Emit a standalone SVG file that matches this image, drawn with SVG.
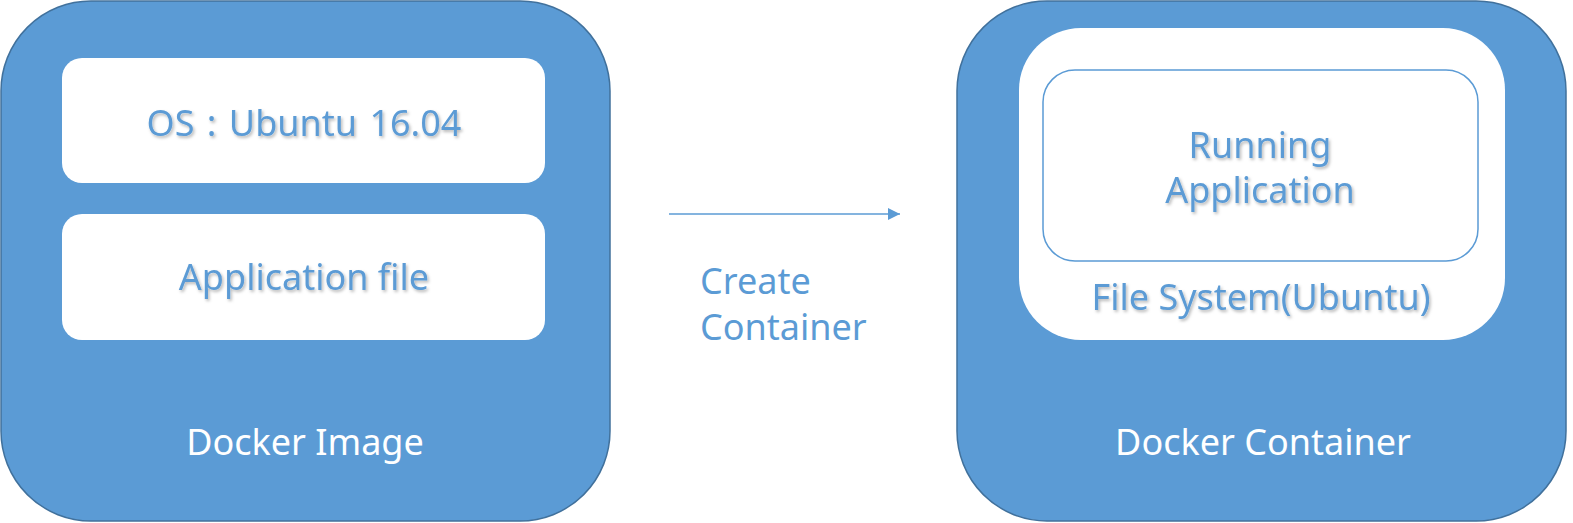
<svg xmlns="http://www.w3.org/2000/svg" width="1573" height="523" viewBox="0 0 1573 523">
<style>
.outer{fill:#5B9BD5;stroke:#41719C;stroke-width:1.5}
.white{fill:#FFFFFF}
.t{font-family:"Noto Sans","Open Sans",sans-serif;font-size:36px;text-anchor:middle}
.blue{fill:#5B9BD5}
.sh{filter:url(#shadow)}
.wt{fill:#FFFFFF}
.conn{stroke:#5B9BD5;stroke-width:1.5;fill:none}
</style>
<defs>
<filter id="shadow" x="-10%" y="-30%" width="120%" height="160%">
<feDropShadow dx="1.5" dy="2" stdDeviation="1.5" flood-color="#000000" flood-opacity="0.28"/>
</filter>
<marker id="arr" viewBox="0 0 12 12" refX="12" refY="6" markerWidth="12" markerHeight="12" markerUnits="userSpaceOnUse" orient="auto">
<path d="M0,0 L12,6 L0,12 z" fill="#5B9BD5"/>
</marker>
</defs>
<g id="docker-image">
<rect class="outer" x="1" y="1" width="609" height="520" rx="90" ry="90"/>
<text class="t wt" x="305" y="455">Docker Image</text>
</g>
<g id="os-box">
<rect class="white" x="62" y="58" width="483" height="125" rx="20" ry="20"/>
<text class="t blue sh" x="304" y="136" word-spacing="3">OS : Ubuntu 16.04</text>
</g>
<g id="app-file">
<rect class="white" x="62" y="214" width="483" height="126" rx="20" ry="20"/>
<text class="t blue sh" x="304" y="290">Application file</text>
</g>
<g id="docker-container">
<rect class="outer" x="957" y="1" width="609" height="520" rx="90" ry="90"/>
<text class="t wt" x="1263" y="455">Docker Container</text>
</g>
<g id="file-system">
<rect class="white" x="1019" y="28" width="486" height="312" rx="62" ry="62"/>
<text class="t blue sh" x="1261" y="310">File System(Ubuntu)</text>
</g>
<g id="running-app">
<rect x="1043" y="70" width="435" height="191" rx="32" ry="32" fill="#FFFFFF" stroke="#5B9BD5" stroke-width="1.5"/>
<text class="t blue sh" x="1260" y="158">Running</text>
<text class="t blue sh" x="1260" y="203">Application</text>
</g>
<g id="connectors">
<line class="conn" x1="669" y1="214" x2="900" y2="214" marker-end="url(#arr)"/>
<text class="t blue" x="700" y="294" style="text-anchor:start">Create</text>
<text class="t blue" x="700" y="340" style="text-anchor:start">Container</text>
</g>
</svg>
